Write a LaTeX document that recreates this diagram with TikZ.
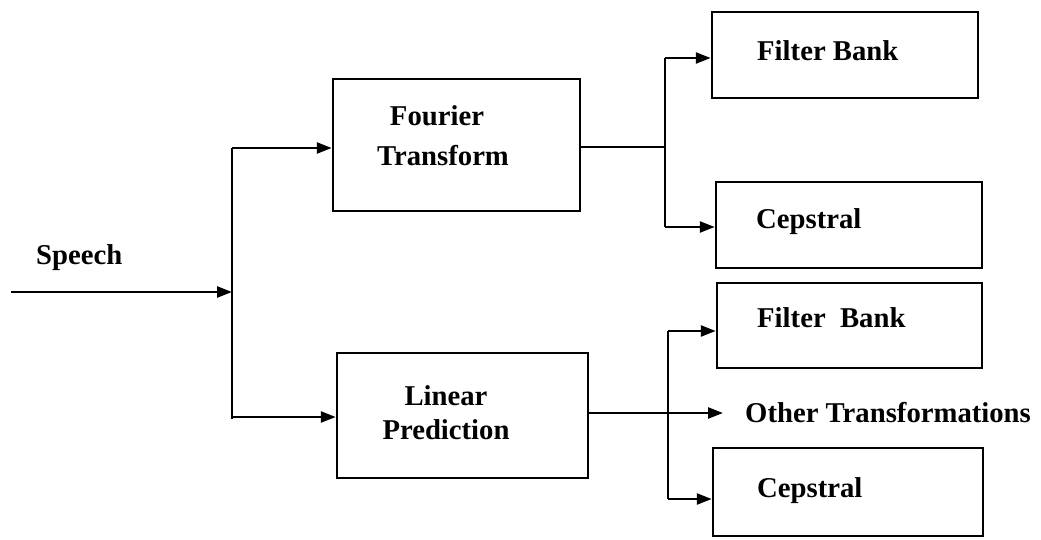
\documentclass[tikz,border=0pt]{standalone}
\usepackage{fontspec}
\setmainfont{Liberation Serif}
\usetikzlibrary{arrows.meta}
\begin{document}
\begin{tikzpicture}[x=1pt,y=-1pt,
  box/.style={draw,line width=2.5pt,rectangle,inner sep=0pt},
  lbl/.style={inner sep=0pt,font=\fontsize{28.7pt}{34pt}\selectfont\bfseries},
  wire/.style={line width=2.5pt},
  arr/.style={wire,-{Triangle[length=15pt,width=11pt]}}]
\useasboundingbox (0,0) rectangle (1041,540);
% boxes
\node[box,minimum width=247pt,minimum height=132pt] (ft) at (456.5,145) {};
\node[box,minimum width=251pt,minimum height=125pt] (lp) at (462.5,415.5) {};
\node[box,minimum width=266pt,minimum height=86pt] (fb1) at (845,55) {};
\node[box,minimum width=266pt,minimum height=86pt] (cep1) at (849,225) {};
\node[box,minimum width=265pt,minimum height=85pt] (fb2) at (849.5,325.5) {};
\node[box,minimum width=270pt,minimum height=88pt] (cep2) at (848,492) {};
% labels
\node[lbl,anchor=base west] (speech) at (36,264) {Speech};
\node[lbl,anchor=base] (ft1) at (437,126) {Fourier};
\node[lbl,anchor=base] (ft2) at (443,166) {Transform};
\node[lbl,anchor=base] (lp1) at (446,405) {Linear};
\node[lbl,anchor=base] (lp2) at (446,439) {Prediction};
\node[lbl,anchor=base west] (fb1t) at (757,61) {Filter Bank};
\node[lbl,anchor=base west] (cep1t) at (756,229) {Cepstral};
\node[lbl,anchor=base west] (fb2t) at (757,327) {Filter\ \ Bank};
\node[lbl,anchor=base west] (other) at (745,422) {Other Transformations};
\node[lbl,anchor=base west] (cep2t) at (757,497) {Cepstral};
% coordinates
\coordinate (in) at (11,292);
\coordinate (j0) at (232,292);
\coordinate (j1) at (232,148);
\coordinate (j2) at (232,419);
\coordinate (j3) at (232,417);
\coordinate (k0) at (665,147);
\coordinate (k1) at (665,58);
\coordinate (k2) at (665,227);
\coordinate (m1) at (668,331);
\coordinate (m2) at (668,499);
\coordinate (ot) at (723,413);
% connectors
\draw[arr] (in) -- (j0);
\draw[wire] (j1) -- (j2);
\draw[arr] (j1) -- (j1 -| ft.west);
\draw[arr] (j3) -- (j3 -| lp.west);
\draw[wire] (ft.east |- k0) -- (k0);
\draw[wire] (k1) -- (k2);
\draw[arr] (k1) -- (k1 -| fb1.west);
\draw[arr] (k2) -- (k2 -| cep1.west);
\draw[arr] (lp.east |- ot) -- (ot);
\draw[wire] (m1) -- (m2);
\draw[arr] (m1) -- (m1 -| fb2.west);
\draw[arr] (m2) -- (m2 -| cep2.west);
\end{tikzpicture}
\end{document}
